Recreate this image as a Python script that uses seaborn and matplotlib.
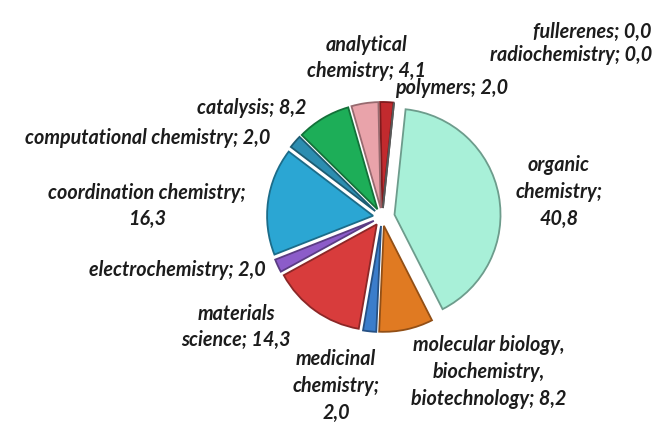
import matplotlib
matplotlib.use("Agg")
import matplotlib.pyplot as plt
import matplotlib.colors as mcolors
import seaborn as sns
import numpy as np

categories = ["organic\nchemistry", "molecular biology,\nbiochemistry,\nbiotechnology",
              "medicinal\nchemistry", "materials\nscience", "electrochemistry",
              "coordination chemistry", "computational chemistry", "catalysis",
              "analytical\nchemistry", "polymers", "fullerenes", "radiochemistry"]
values = [40.8, 8.2, 2.0, 14.3, 2.0, 16.3, 2.0, 8.2, 4.1, 2.0, 0.0, 0.0]
label_texts = ["organic\nchemistry;\n40,8",
               "molecular biology,\nbiochemistry,\nbiotechnology; 8,2",
               "medicinal\nchemistry;\n2,0",
               "materials\nscience; 14,3",
               "electrochemistry; 2,0",
               "coordination chemistry;\n16,3",
               "computational chemistry; 2,0",
               "catalysis; 8,2",
               "analytical\nchemistry; 4,1",
               "polymers; 2,0",
               "fullerenes; 0,0",
               "radiochemistry; 0,0"]
colors = ["#A8F0D8", "#E07A22", "#3B7DCB", "#D83C3C", "#8C5CC9", "#2BA6D3",
          "#2C8DB0", "#1DAE58", "#E9A3AA", "#C22A2E", "#888888", "#888888"]

# layout (pixel positions of label centers, and alignment)
label_pos = [(559, 192), (489, 372), (336, 386), (236, 327), (177, 270),
             (147, 206), (148, 138), (252, 108), (367, 58), (452, 88),
             (652, 32), (652, 55)]
label_ha = ["center", "center", "center", "center", "center", "center",
            "center", "center", "center", "center", "right", "right"]

sns.set_theme(style="white")
plt.rcParams["font.family"] = ["Lato", "DejaVu Sans"]

W, H = 659, 424
cx, cy, unit = 382, 217, 106
fig = plt.figure(figsize=(W / 100, H / 100), dpi=100)
ax = fig.add_axes([0, 0, 1, 1])

explode = [0.12] + [0.085] * (len(values) - 1)
edge = [tuple(np.clip(np.array(mcolors.to_rgb(c)) * 0.65, 0, 1)) for c in colors]
wedges, _ = ax.pie(values, colors=colors, startangle=84, counterclock=False,
                   explode=explode, radius=1.0,
                   wedgeprops=dict(linewidth=1.3))
for w, e in zip(wedges, edge):
    w.set_edgecolor(e)

ax.set_xlim(-cx / unit, (W - cx) / unit)
ax.set_ylim(-(H - cy) / unit, cy / unit)
ax.set_aspect("equal")
ax.axis("off")

for txt, (px, py), ha in zip(label_texts, label_pos, label_ha):
    ax.text((px - cx) / unit, (cy - py) / unit, txt, ha=ha, va="center",
            fontsize=14.2, fontweight="bold", fontstyle="italic",
            color="#1c1c1c", linespacing=1.42)

fig.savefig("out.png", dpi=100)
